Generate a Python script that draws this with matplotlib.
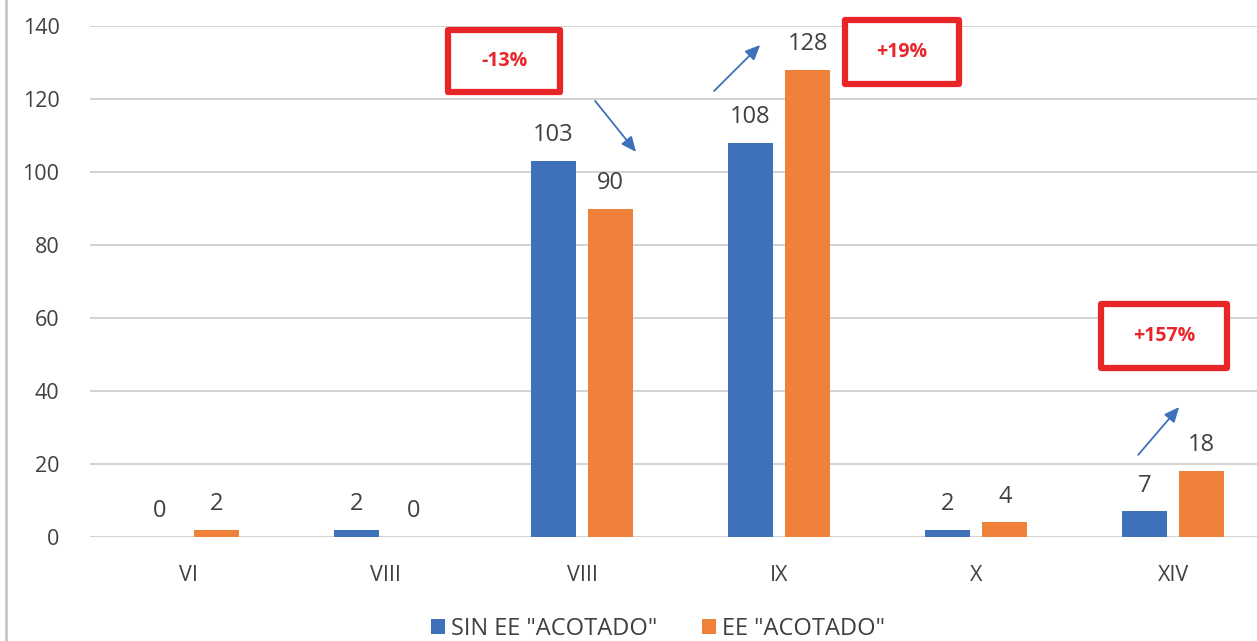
import matplotlib
matplotlib.use("Agg")
import matplotlib.pyplot as plt
from matplotlib.patches import Rectangle, Patch
from matplotlib.lines import Line2D
import numpy as np

categories = ["VI", "VIII", "VIII", "IX", "X", "XIV"]
sin_acotado = [0, 2, 103, 108, 2, 7]
acotado = [2, 0, 90, 128, 4, 18]
series_names = ['SIN EE "ACOTADO"', 'EE "ACOTADO"']
yticks = [0, 20, 40, 60, 80, 100, 120, 140]
changes = ["-13%", "+19%", "+157%"]

BLUE = "#3F70BA"
ORANGE = "#F0813A"
RED = "#E8262A"
TXT = "#404040"
GRID = "#D0D0D0"

plt.rcParams['font.family'] = ['Open Sans', 'DejaVu Sans']

W, H = 1257, 641
fig = plt.figure(figsize=(W / 100, H / 100), dpi=100)
fig.patch.set_facecolor("white")

left_px, right_px = 90, 1257
bottom_px, top_px = 537, 26
ax = fig.add_axes([left_px / W, 1 - bottom_px / H, (right_px - left_px) / W, (bottom_px - top_px) / H])

x = np.arange(len(categories))
off = 0.145
bw = 0.228
b1 = ax.bar(x - off, sin_acotado, bw, color=BLUE, zorder=3)
b2 = ax.bar(x + off, acotado, bw, color=ORANGE, zorder=3)

for bars, vals in ((b1, sin_acotado), (b2, acotado)):
    for r, v in zip(bars, vals):
        ax.annotate(str(v), (r.get_x() + r.get_width() / 2, v), xytext=(0, 10),
                    textcoords="offset points", ha="center", va="bottom",
                    fontsize=17, color=TXT)

ax.set_xlim(-0.497, 5.425)
ax.set_ylim(0, 140)
ax.set_yticks(yticks)
ax.set_xticks(x)
ax.set_xticklabels(categories)
ax.tick_params(axis="both", length=0, labelsize=15.5, colors=TXT)
ax.tick_params(axis="y", pad=22)
ax.tick_params(axis="x", pad=20)
ax.grid(axis="y", color=GRID, linewidth=1.3, zorder=0)
for s in ax.spines.values():
    s.set_visible(False)

# annotation boxes (data coords)
boxes = [
    (1.32, 121.9, 0.57, 17.0, 1.604, 130.4),
    (3.335, 124.1, 0.579, 17.5, 3.624, 132.9),
    (4.635, 46.3, 0.639, 17.5, 4.954, 55.1),
]
for (bx, by, bw_, bh, tx, ty), lab in zip(boxes, changes):
    ax.add_patch(Rectangle((bx, by), bw_, bh, fill=True, facecolor="white",
                           edgecolor=RED, linewidth=4.5, zorder=5, clip_on=False,
                           joinstyle="round"))
    ax.text(tx, ty, lab, color=RED, fontsize=14, fontweight="bold",
            ha="center", va="center", zorder=6, clip_on=False)

arrows = [
    ((2.066, 119.5), (2.274, 105.5)),
    ((2.670, 122.2), (2.904, 134.8)),
    ((4.822, 22.5), (5.030, 35.6)),
]
for s, e in arrows:
    ax.annotate("", xy=e, xytext=s,
                arrowprops=dict(arrowstyle="-|>,head_length=0.9,head_width=0.4",
                                color=BLUE, lw=1.3, shrinkA=0, shrinkB=0),
                zorder=6, annotation_clip=False)

# left frame line
fig.add_artist(Line2D([6 / W, 6 / W], [0, 1], color="#C8C8C8", linewidth=2))

handles = [Patch(facecolor=BLUE), Patch(facecolor=ORANGE)]
fig.legend(handles, series_names, loc="center", bbox_to_anchor=(658 / W, 1 - 629 / H),
           ncol=2, frameon=False, fontsize=17, handlelength=0.6, handleheight=0.6,
           handletextpad=0.25, columnspacing=1.9, labelcolor=TXT)

fig.savefig("out.png", dpi=100, facecolor="white")
